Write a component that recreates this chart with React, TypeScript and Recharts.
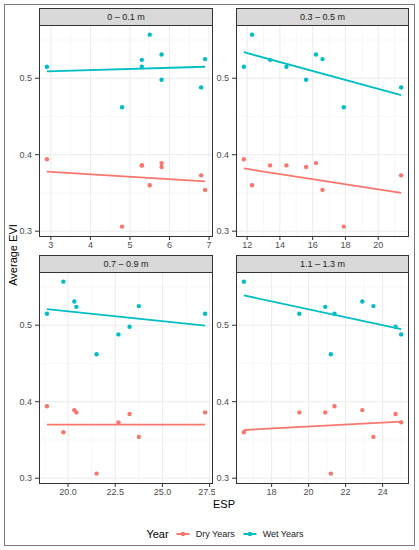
import { ScatterChart, Scatter, XAxis, YAxis, CartesianGrid } from 'recharts';

// EVI per site (same 9 sites in every depth panel)
const wetEvi = [0.515, 0.557, 0.524, 0.515, 0.498, 0.531, 0.525, 0.462, 0.488];
const dryEvi = [0.394, 0.360, 0.386, 0.386, 0.384, 0.389, 0.354, 0.306, 0.373];

// ESP per site at each depth
const esp0to01 = [2.9, 5.5, 5.3, 5.3, 5.8, 5.8, 6.9, 4.8, 6.8];
const esp03to05 = [11.8, 12.3, 13.4, 14.4, 15.6, 16.2, 16.6, 17.9, 21.4];
const esp07to09 = [18.88, 19.75, 20.44, 27.26, 23.26, 20.33, 23.75, 21.51, 22.67];
const esp11to13 = [21.4, 16.5, 20.9, 19.5, 24.7, 22.9, 23.5, 21.2, 25.0];

// lm fit end points [x0, y0, x1, y1]
const fitWet = [
  [2.9, 0.509, 6.9, 0.515],
  [11.8, 0.534, 21.4, 0.478],
  [18.88, 0.521, 27.26, 0.4996],
  [16.5, 0.539, 25.0, 0.495],
];
const fitDry = [
  [2.9, 0.378, 6.9, 0.365],
  [11.8, 0.382, 21.4, 0.35],
  [18.88, 0.37, 27.26, 0.37],
  [16.5, 0.363, 25.0, 0.374],
];

const depthLabels = ['0 – 0.1 m', '0.3 – 0.5 m', '0.7 – 0.9 m', '1.1 – 1.3 m'];
const espByDepth = [esp0to01, esp03to05, esp07to09, esp11to13];
const xDomains: [number, number][] = [
  [2.7, 7.1],
  [11.32, 21.88],
  [18.46, 27.68],
  [16.075, 25.425],
];
const xTicks = [
  [3, 4, 5, 6, 7],
  [12, 14, 16, 18, 20],
  [20, 22.5, 25, 27.5],
  [18, 20, 22, 24],
];
const xMinor = [
  [3.5, 4.5, 5.5, 6.5],
  [13, 15, 17, 19, 21],
  [18.75, 21.25, 23.75, 26.25],
  [17, 19, 21, 23, 25],
];
const yDomain: [number, number] = [0.2924, 0.5696];
const yTicks = [0.3, 0.4, 0.5];
const yMinor = [0.35, 0.45, 0.55];

const WET = '#00BFC4';
const DRY = '#F8766D';
const FONT = '"Liberation Sans", Arial, sans-serif';

const dot = (color: string) => (p: any) => <circle cx={p.cx} cy={p.cy} r={2.2} fill={color} />;
const noDot = () => <g />;

const PLOT_H = 212;
const panelPos = [
  { chartLeft: 0, plotLeft: 39, plotW: 174, top: 25 },
  { chartLeft: 197, plotLeft: 236, plotW: 173, top: 25 },
  { chartLeft: 0, plotLeft: 39, plotW: 174, top: 272 },
  { chartLeft: 197, plotLeft: 236, plotW: 173, top: 272 },
];

function Panel({ i }: { i: number }) {
  const pos = panelPos[i];
  const esp = espByDepth[i];
  const wet = esp.map((x, k) => ({ x, y: wetEvi[k] }));
  const dry = esp.map((x, k) => ({ x, y: dryEvi[k] }));
  const fw = fitWet[i];
  const fd = fitDry[i];
  const wetLine = [{ x: fw[0], y: fw[1] }, { x: fw[2], y: fw[3] }];
  const dryLine = [{ x: fd[0], y: fd[1] }, { x: fd[2], y: fd[3] }];
  const yAxisW = pos.plotLeft - pos.chartLeft;
  const rightM = i % 2 === 0 ? 2 : 4;
  const tick = { fill: '#4D4D4D', fontSize: 9, fontFamily: FONT };
  return (
    <>
      <div
        style={{
          position: 'absolute', left: pos.plotLeft, top: pos.top - 17, width: pos.plotW, height: 18,
          boxSizing: 'border-box', background: '#D9D9D9', border: '1px solid #333',
          fontFamily: FONT, fontSize: 9, color: '#1A1A1A', textAlign: 'center', lineHeight: '16px',
        }}
      >
        {depthLabels[i]}
      </div>
      <div style={{ position: 'absolute', left: pos.chartLeft, top: pos.top }}>
        <ScatterChart
          width={yAxisW + pos.plotW + rightM}
          height={PLOT_H + 18}
          margin={{ top: 0, right: rightM, bottom: 0, left: 0 }}
        >
          <CartesianGrid stroke="#F2F2F2" strokeWidth={0.6} horizontalValues={yMinor} verticalValues={xMinor[i]} />
          <CartesianGrid stroke="#EBEBEB" strokeWidth={1} horizontalValues={yTicks} verticalValues={xTicks[i]} />
          <XAxis
            type="number" dataKey="x" domain={xDomains[i]} ticks={xTicks[i]} allowDataOverflow
            height={18} tickSize={3} tickMargin={2} axisLine={false}
            tickLine={{ stroke: '#333' }} tick={tick}
            tickFormatter={(v: number) => (i === 2 ? v.toFixed(1) : String(v))}
          />
          <YAxis
            type="number" dataKey="y" domain={yDomain} ticks={yTicks} allowDataOverflow
            width={yAxisW} tickSize={4} tickMargin={3} axisLine={false}
            tickLine={{ stroke: '#333' }} tick={tick}
            tickFormatter={(v: number) => v.toFixed(1)}
          />
          <Scatter data={dryLine} line={{ stroke: DRY, strokeWidth: 1.8 }} shape={noDot} isAnimationActive={false} />
          <Scatter data={wetLine} line={{ stroke: WET, strokeWidth: 1.8 }} shape={noDot} isAnimationActive={false} />
          <Scatter data={dry} shape={dot(DRY)} isAnimationActive={false} />
          <Scatter data={wet} shape={dot(WET)} isAnimationActive={false} />
        </ScatterChart>
      </div>
      <div
        style={{
          position: 'absolute', left: pos.plotLeft, top: pos.top, width: pos.plotW, height: PLOT_H,
          boxSizing: 'border-box', border: '1px solid #333', pointerEvents: 'none',
        }}
      />
    </>
  );
}

function LegendKey({ color }: { color: string }) {
  return (
    <svg width={15} height={10} style={{ margin: '0 5px 0 4px' }}>
      <line x1={1} y1={5} x2={14} y2={5} stroke={color} strokeWidth={1.8} />
      <circle cx={7.5} cy={5} r={2.2} fill={color} />
    </svg>
  );
}

export default function App() {
  return (
    <div style={{ position: 'absolute', left: 0, top: 0, width: 419, height: 550, background: '#fff', fontFamily: FONT }}>
      <div
        style={{
          position: 'absolute', left: 4, top: 4, width: 411, height: 542,
          boxSizing: 'border-box', border: '1.3px solid #7a7a7a',
        }}
      />
      {[0, 1, 2, 3].map((i) => (
        <Panel key={i} i={i} />
      ))}
      <div
        style={{
          position: 'absolute', left: 13, top: 255, transform: 'translate(-50%, -50%) rotate(-90deg)',
          fontSize: 11, color: '#000', whiteSpace: 'nowrap',
        }}
      >
        Average EVI
      </div>
      <div
        style={{
          position: 'absolute', left: 224, top: 504, transform: 'translate(-50%, -50%)',
          fontSize: 11, color: '#000',
        }}
      >
        ESP
      </div>
      <div
        style={{
          position: 'absolute', left: 225, top: 534, transform: 'translate(-50%, -50%)',
          display: 'flex', alignItems: 'center', whiteSpace: 'nowrap', fontSize: 9, color: '#000',
        }}
      >
        <span style={{ fontSize: 11, marginRight: 3 }}>Year</span>
        <LegendKey color={DRY} />
        <span style={{ color: '#1A1A1A' }}>Dry Years</span>
        <span style={{ width: 4 }} />
        <LegendKey color={WET} />
        <span style={{ color: '#1A1A1A' }}>Wet Years</span>
      </div>
    </div>
  );
}
